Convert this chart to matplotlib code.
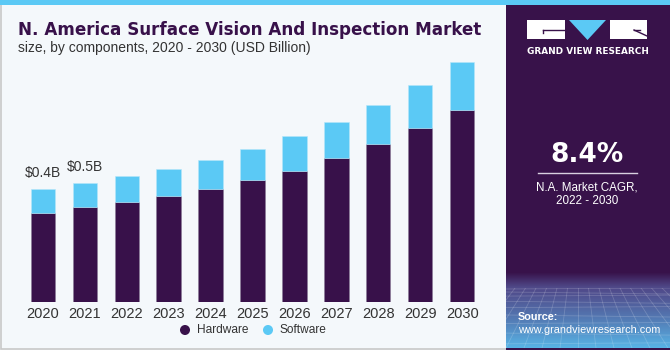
import matplotlib
matplotlib.use("Agg")
import matplotlib.pyplot as plt
import numpy as np
from matplotlib.patches import Rectangle, Polygon, Circle

years = ["2020", "2021", "2022", "2023", "2024", "2025", "2026", "2027", "2028", "2029", "2030"]
hardware = [0.348, 0.371, 0.391, 0.413, 0.442, 0.476, 0.514, 0.564, 0.617, 0.680, 0.752]
software = [0.093, 0.095, 0.102, 0.106, 0.114, 0.124, 0.135, 0.142, 0.154, 0.170, 0.187]
labels = {0: "$0.4B", 1: "$0.5B"}

HW = "#38114a"
SW = "#5bc9f5"
PANEL = "#38124a"
BG = "#f4f8fb"

W, H = 670, 350
fig = plt.figure(figsize=(6.7, 3.5), dpi=100)
fig.patch.set_facecolor(BG)

deco = fig.add_axes([0, 0, 1, 1], zorder=0)
deco.set_xlim(0, W)
deco.set_ylim(H, 0)
deco.axis("off")

# border
deco.add_patch(Rectangle((0.5, 0.5), W - 1, H - 1.5, fill=False, ec="#c8c8c8", lw=1.2))
# top band
deco.add_patch(Rectangle((0, 0), W, 5, color=SW, lw=0))
# right panel
px0 = 506
deco.add_patch(Rectangle((px0, 5), W - px0, H - 5, color=PANEL, lw=0))
# gradient at bottom of panel
grad = np.linspace(0, 1, 100)[:, None]
top_c = np.array([0x38, 0x12, 0x4a]) / 255
mid_c = np.array([0x50, 0x4a, 0x8a]) / 255
bot_c = np.array([0x58, 0xb4, 0xe6]) / 255
img = np.zeros((100, 2, 3))
for r in range(100):
    t = r / 99
    if t < 0.2:
        c = top_c + (mid_c - top_c) * (t / 0.2)
    else:
        c = mid_c + (bot_c - mid_c) * ((t - 0.2) / 0.8) ** 1.2
    img[r, :, :] = c
deco.imshow(img, extent=(px0, W, H - 2, 272), aspect="auto", zorder=1, interpolation="bilinear")
# faint perspective grid
clip = Rectangle((px0, 288), W - px0, H - 290, transform=deco.transData)
for i in range(-12, 26):
    x0 = px0 + i * 9
    ln, = deco.plot([x0 + (i - 8) * 1.5, x0 + (i - 8) * 9], [288, H - 2], color="white",
                    alpha=0.18, lw=0.6, zorder=2)
    ln.set_clip_path(clip)
ys = 289
k = 0
while ys < H:
    ln, = deco.plot([px0, W], [ys, ys + (2 if k % 2 else -1)], color="white", alpha=0.18, lw=0.6, zorder=2)
    ln.set_clip_path(clip)
    ys += 3 + k * 1.1
    k += 1
deco.set_xlim(0, W)
deco.set_ylim(H, 0)

# logo
deco.add_patch(Rectangle((527, 20), 38, 19, color="white", lw=0, zorder=3))
deco.add_patch(Polygon([[569, 20], [606, 20], [587.5, 40]], closed=True, color=SW, lw=0, zorder=3))
deco.add_patch(Rectangle((610, 20), 37, 19, color="white", lw=0, zorder=3))
deco.plot([543, 565], [30, 30], color=PANEL, lw=1, zorder=4)
deco.plot([543, 543], [30, 33], color=PANEL, lw=1, zorder=4)
deco.plot([634, 647], [30, 36], color=PANEL, lw=1, zorder=4)
deco.plot([634, 640], [30, 30], color=PANEL, lw=1, zorder=4)
deco.text(587.5, 51, "GRAND VIEW RESEARCH", color="white", fontsize=6.4, fontweight="bold",
          ha="center", va="center", family="DejaVu Sans", zorder=4)

deco.text(587, 155, "8.4%", color="white", fontsize=19, fontweight="bold",
          ha="center", va="center", family="DejaVu Sans", zorder=4)
deco.plot([538, 637], [173, 173], color="#d8d0e0", lw=1, zorder=4)
deco.text(587, 187, "N.A. Market CAGR,", color="white", fontsize=8.4,
          ha="center", va="center", family="Liberation Sans", zorder=4)
deco.text(587, 201, "2022 - 2030", color="white", fontsize=8.4,
          ha="center", va="center", family="Liberation Sans", zorder=4)
deco.text(518, 317, "Source:", color="white", fontsize=7.8, fontweight="bold",
          ha="left", va="center", family="Liberation Sans", zorder=4)
deco.text(518, 330, "www.grandviewresearch.com", color="white", fontsize=7.8,
          ha="left", va="center", family="Liberation Sans", zorder=4)

# title
deco.text(18, 30, "N. America Surface Vision And Inspection Market", color=HW, fontsize=12.1,
          fontweight="heavy", ha="left", va="center", family="DejaVu Sans", zorder=4)
deco.text(18, 48, "size, by components, 2020 - 2030 (USD Billion)", color="#333333", fontsize=10.0,
          ha="left", va="center", family="Liberation Sans", zorder=4)

# main chart
ax_l, ax_r = 20, 485
base_y = 301.7
top_y = 55
ax = fig.add_axes([ax_l / W, (H - base_y) / H, (ax_r - ax_l) / W, (base_y - top_y) / H], zorder=2)
ax.patch.set_alpha(0)
x = np.arange(len(years))
spacing = 41.94
ax.set_xlim((ax_l - 42.8) / spacing, (ax_r - 42.8) / spacing)
ax.set_ylim(0, (base_y - top_y) / 255)
ax.bar(x, hardware, width=0.58, color=HW, edgecolor="#8a7a96", linewidth=0.4)
ax.bar(x, software, bottom=hardware, width=0.58, color=SW, edgecolor="#b5e6fa", linewidth=0.4)
for i, t in labels.items():
    ax.text(x[i], hardware[i] + software[i] + 0.035, t, ha="center", va="bottom",
            fontsize=10, color="#333333", family="Liberation Sans")
ax.set_xticks(x)
ax.set_xticklabels(years, fontsize=10.5, color="#333333", family="Liberation Sans")
ax.tick_params(axis="x", length=0, pad=3.5)
ax.set_yticks([])
for s in ax.spines.values():
    s.set_visible(False)

# legend
deco.add_patch(Circle((185, 330), 4.3, color=HW, zorder=4))
deco.text(197, 330, "Hardware", fontsize=8.6, color="#333333", ha="left", va="center",
          family="Liberation Sans", zorder=4)
deco.add_patch(Circle((268, 330), 4.3, color=SW, zorder=4))
deco.text(279, 330, "Software", fontsize=8.6, color="#333333", ha="left", va="center",
          family="Liberation Sans", zorder=4)

fig.savefig("out.png", dpi=100, facecolor=BG)
